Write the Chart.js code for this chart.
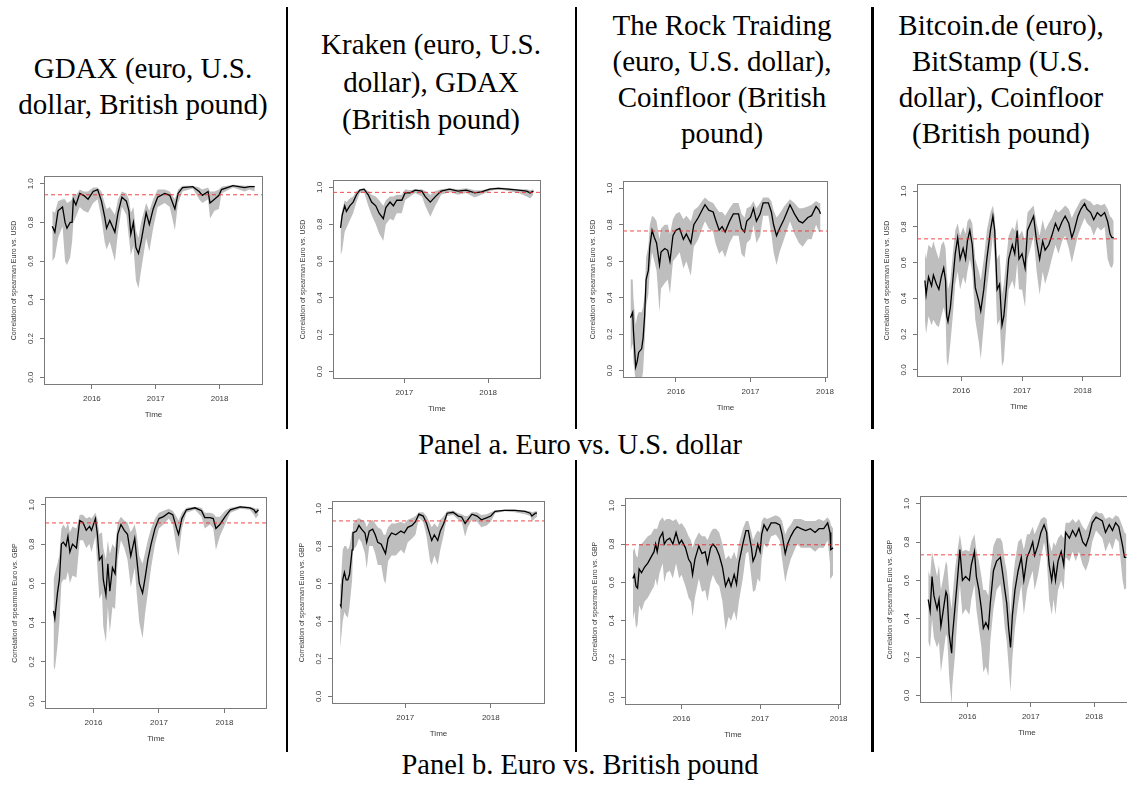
<!DOCTYPE html>
<html>
<head>
<meta charset="utf-8">
<script src="https://cdn.jsdelivr.net/npm/chart.js@4.4.1/dist/chart.umd.min.js"></script>
<style>
  html, body { margin: 0; padding: 0; background: #fff; }
  #page { position: relative; width: 1127px; height: 787px; overflow: hidden; background: #fff; }
  .head { position: absolute; width: 290px; text-align: center; font-family: "Liberation Serif", "Times New Roman", serif; font-size: 29px; line-height: 36px; color: #000; }
  .panel { position: absolute; left: 230px; width: 700px; text-align: center; font-family: "Liberation Serif", "Times New Roman", serif; font-size: 28.5px; line-height: 36px; color: #000; }
  .sep { position: absolute; background: #000; }
  .plot { position: absolute; }
</style>
</head>
<body>
<div id="page">
  <div class="head" style="left:-2px; top:50px;">GDAX (euro, U.S.<br>dollar, British pound)</div>
  <div class="head" style="left:286px; top:26px; line-height:37.5px;">Kraken (euro, U.S.<br>dollar), GDAX<br>(British pound)</div>
  <div class="head" style="left:577px; top:7px;">The Rock Traiding<br>(euro, U.S. dollar),<br>Coinfloor (British<br>pound)</div>
  <div class="head" style="left:856px; top:7px;">Bitcoin.de (euro),<br>BitStamp (U.S.<br>dollar), Coinfloor<br>(British pound)</div>

  <div class="sep" style="left:286px; top:7px; width:2px; height:422px;"></div>
  <div class="sep" style="left:575px; top:7px; width:2px; height:422px;"></div>
  <div class="sep" style="left:871px; top:7px; width:3px; height:422px;"></div>
  <div class="sep" style="left:286px; top:460px; width:2px; height:292px;"></div>
  <div class="sep" style="left:575px; top:460px; width:2px; height:292px;"></div>
  <div class="sep" style="left:871px; top:460px; width:3px; height:292px;"></div>

  <div class="panel" style="top:427px;">Panel a. Euro vs. U.S. dollar</div>
  <div class="panel" style="top:747px;">Panel b. Euro vs. British pound</div>
</div>
<script>
// rolling spearman correlation, euro vs usd (row a) and euro vs gbp (row b)
var yTicks = [0, 0.2, 0.4, 0.6, 0.8, 1.0];
var yTickLabels = ["0.0", "0.2", "0.4", "0.6", "0.8", "1.0"];
var usdTitle = "Correlation of spearman Euro vs. USD";
var gbpTitle = "Correlation of spearman Euro vs. GBP";

// --- Panel a, GDAX
var a1Time = [2015.38,2015.42,2015.47,2015.54,2015.58,2015.61,2015.66,2015.69,2015.71,2015.75,2015.81,2015.87,2015.94,2016.02,2016.09,2016.15,2016.20,2016.23,2016.28,2016.36,2016.41,2016.47,2016.54,2016.58,2016.61,2016.65,2016.69,2016.73,2016.77,2016.85,2016.90,2016.96,2017.03,2017.14,2017.22,2017.30,2017.35,2017.42,2017.58,2017.68,2017.73,2017.82,2017.85,2017.92,2017.99,2018.03,2018.21,2018.39,2018.47,2018.55];
var a1Mean = [0.78,0.75,0.86,0.88,0.80,0.77,0.80,0.80,0.92,0.89,0.95,0.94,0.92,0.96,0.97,0.91,0.83,0.77,0.81,0.75,0.85,0.93,0.91,0.86,0.74,0.80,0.67,0.64,0.70,0.85,0.79,0.87,0.93,0.95,0.94,0.87,0.95,0.98,0.985,0.96,0.94,0.96,0.90,0.92,0.94,0.97,0.99,0.98,0.985,0.985];
var a1Low = [0.60,0.62,0.72,0.78,0.60,0.58,0.62,0.70,0.80,0.83,0.88,0.86,0.85,0.90,0.92,0.82,0.70,0.66,0.70,0.60,0.75,0.88,0.84,0.72,0.63,0.68,0.50,0.46,0.55,0.72,0.65,0.77,0.88,0.90,0.88,0.76,0.90,0.96,0.975,0.92,0.90,0.92,0.82,0.86,0.87,0.95,0.98,0.96,0.97,0.96];
var a1High = [0.86,0.85,0.91,0.92,0.92,0.90,0.91,0.92,0.95,0.94,0.97,0.96,0.96,0.98,0.98,0.96,0.90,0.87,0.88,0.84,0.92,0.96,0.95,0.92,0.85,0.88,0.76,0.72,0.80,0.90,0.86,0.92,0.97,0.97,0.96,0.92,0.97,0.99,0.99,0.98,0.97,0.98,0.96,0.96,0.97,0.985,0.995,0.99,0.99,0.99];
var a1Ref = 0.943;

// --- Panel a, Kraken
var a2Time = [2016.24,2016.26,2016.29,2016.31,2016.35,2016.39,2016.43,2016.47,2016.52,2016.57,2016.61,2016.66,2016.70,2016.75,2016.78,2016.83,2016.87,2016.91,2016.97,2017.01,2017.07,2017.13,2017.21,2017.25,2017.31,2017.37,2017.44,2017.54,2017.64,2017.74,2017.84,2017.92,2018.02,2018.12,2018.24,2018.36,2018.46,2018.50,2018.54];
var a2Mean = [0.78,0.85,0.90,0.87,0.90,0.92,0.96,0.985,0.99,0.96,0.92,0.90,0.86,0.83,0.89,0.92,0.90,0.93,0.93,0.97,0.97,0.985,0.98,0.95,0.92,0.95,0.98,0.99,0.98,0.985,0.97,0.975,0.99,0.995,0.99,0.985,0.98,0.97,0.98];
var a2Low = [0.63,0.66,0.76,0.78,0.82,0.86,0.92,0.97,0.975,0.90,0.85,0.80,0.75,0.71,0.80,0.83,0.82,0.86,0.86,0.93,0.95,0.97,0.95,0.90,0.84,0.90,0.96,0.975,0.96,0.97,0.945,0.96,0.98,0.99,0.98,0.97,0.95,0.94,0.96];
var a2High = [0.82,0.88,0.93,0.92,0.94,0.95,0.98,0.99,0.995,0.98,0.96,0.95,0.93,0.90,0.93,0.95,0.95,0.96,0.96,0.99,0.985,0.99,0.99,0.98,0.96,0.98,0.99,0.995,0.99,0.995,0.985,0.985,0.995,1.0,0.995,0.99,0.99,0.985,0.99];
var a2Ref = 0.973;

// --- Panel a, The Rock Trading
var a3Time = [2015.39,2015.42,2015.43,2015.46,2015.48,2015.50,2015.54,2015.56,2015.58,2015.60,2015.63,2015.65,2015.68,2015.71,2015.74,2015.78,2015.80,2015.85,2015.89,2015.92,2015.96,2016.00,2016.05,2016.10,2016.14,2016.20,2016.24,2016.30,2016.35,2016.39,2016.44,2016.50,2016.53,2016.58,2016.62,2016.66,2016.72,2016.77,2016.84,2016.88,2016.92,2016.95,2017.00,2017.04,2017.08,2017.13,2017.17,2017.24,2017.28,2017.31,2017.35,2017.39,2017.45,2017.53,2017.59,2017.65,2017.70,2017.77,2017.82,2017.88,2017.92,2017.94];
var a3Mean = [0.29,0.32,0.22,0.02,0.05,0.10,0.12,0.18,0.30,0.50,0.55,0.68,0.77,0.73,0.70,0.58,0.65,0.67,0.66,0.60,0.74,0.77,0.78,0.72,0.75,0.70,0.80,0.84,0.88,0.91,0.88,0.87,0.83,0.77,0.79,0.76,0.82,0.86,0.86,0.78,0.76,0.82,0.84,0.89,0.82,0.86,0.92,0.92,0.87,0.80,0.74,0.78,0.83,0.91,0.86,0.82,0.81,0.84,0.85,0.90,0.88,0.86];
var a3Low = [0.10,0.15,0.05,-0.06,-0.06,-0.06,-0.06,0.0,0.15,0.35,0.42,0.55,0.65,0.60,0.55,0.32,0.45,0.48,0.50,0.42,0.60,0.62,0.65,0.56,0.60,0.52,0.68,0.72,0.78,0.82,0.78,0.76,0.70,0.64,0.66,0.62,0.70,0.74,0.74,0.64,0.62,0.70,0.72,0.80,0.70,0.74,0.85,0.85,0.75,0.65,0.58,0.65,0.72,0.82,0.75,0.70,0.68,0.72,0.72,0.80,0.76,0.76];
var a3High = [0.50,0.50,0.40,0.25,0.30,0.32,0.32,0.35,0.42,0.62,0.68,0.80,0.85,0.84,0.82,0.72,0.78,0.80,0.80,0.75,0.83,0.86,0.87,0.83,0.85,0.82,0.88,0.90,0.93,0.95,0.93,0.92,0.90,0.87,0.87,0.85,0.89,0.92,0.92,0.86,0.84,0.89,0.90,0.93,0.89,0.92,0.95,0.95,0.93,0.88,0.84,0.86,0.90,0.94,0.92,0.89,0.89,0.90,0.91,0.93,0.92,0.92];
var a3Ref = 0.766;

// --- Panel a, Bitcoin.de / BitStamp
var a4Time = [2015.40,2015.42,2015.46,2015.51,2015.54,2015.59,2015.63,2015.67,2015.71,2015.74,2015.76,2015.78,2015.82,2015.86,2015.90,2015.94,2015.98,2016.03,2016.07,2016.10,2016.14,2016.18,2016.23,2016.29,2016.32,2016.37,2016.42,2016.48,2016.52,2016.55,2016.59,2016.63,2016.67,2016.70,2016.74,2016.78,2016.84,2016.88,2016.92,2016.95,2017.00,2017.05,2017.09,2017.14,2017.19,2017.24,2017.29,2017.34,2017.38,2017.44,2017.49,2017.55,2017.60,2017.66,2017.71,2017.77,2017.82,2017.86,2017.92,2017.97,2018.03,2018.07,2018.13,2018.18,2018.24,2018.30,2018.36,2018.41,2018.45,2018.48,2018.51];
var a4Mean = [0.50,0.42,0.52,0.47,0.53,0.48,0.45,0.52,0.57,0.50,0.30,0.27,0.35,0.50,0.65,0.74,0.62,0.68,0.62,0.72,0.78,0.70,0.46,0.38,0.33,0.45,0.62,0.78,0.86,0.78,0.45,0.48,0.25,0.30,0.45,0.62,0.70,0.65,0.78,0.62,0.65,0.57,0.78,0.82,0.86,0.72,0.62,0.72,0.67,0.70,0.75,0.82,0.78,0.83,0.86,0.82,0.74,0.78,0.86,0.90,0.93,0.90,0.88,0.84,0.88,0.86,0.88,0.83,0.76,0.74,0.74];
var a4Low = [0.28,0.20,0.30,0.25,0.28,0.25,0.24,0.30,0.35,0.30,0.05,0.02,0.15,0.30,0.48,0.55,0.45,0.52,0.48,0.55,0.62,0.55,0.28,0.15,0.06,0.25,0.45,0.62,0.75,0.62,0.25,0.28,0.02,0.05,0.25,0.45,0.50,0.45,0.60,0.45,0.45,0.35,0.62,0.68,0.75,0.55,0.42,0.55,0.48,0.55,0.62,0.70,0.65,0.72,0.75,0.68,0.60,0.66,0.75,0.80,0.85,0.82,0.80,0.75,0.80,0.78,0.80,0.62,0.58,0.57,0.60];
var a4High = [0.66,0.62,0.70,0.68,0.72,0.66,0.62,0.70,0.72,0.68,0.55,0.45,0.50,0.65,0.78,0.82,0.75,0.80,0.76,0.83,0.85,0.82,0.62,0.55,0.50,0.62,0.78,0.88,0.92,0.86,0.62,0.65,0.42,0.48,0.62,0.75,0.80,0.78,0.85,0.75,0.78,0.72,0.88,0.90,0.92,0.82,0.75,0.84,0.78,0.82,0.85,0.90,0.88,0.90,0.92,0.90,0.85,0.88,0.92,0.95,0.96,0.95,0.94,0.92,0.93,0.92,0.93,0.90,0.86,0.85,0.83];
var a4Ref = 0.733;

// --- Panel b, GDAX
var b1Time = [2015.39,2015.41,2015.45,2015.48,2015.51,2015.54,2015.58,2015.61,2015.64,2015.68,2015.74,2015.79,2015.84,2015.89,2015.94,2015.97,2016.03,2016.06,2016.09,2016.13,2016.15,2016.19,2016.22,2016.25,2016.29,2016.33,2016.37,2016.42,2016.47,2016.52,2016.57,2016.63,2016.66,2016.70,2016.75,2016.79,2016.83,2016.88,2016.94,2017.00,2017.07,2017.15,2017.21,2017.27,2017.30,2017.35,2017.42,2017.55,2017.65,2017.70,2017.78,2017.83,2017.87,2017.93,2018.01,2018.09,2018.24,2018.39,2018.45,2018.48,2018.52];
var b1Mean = [0.46,0.42,0.55,0.62,0.80,0.81,0.79,0.84,0.76,0.80,0.78,0.92,0.91,0.87,0.89,0.87,0.93,0.85,0.72,0.74,0.62,0.54,0.70,0.56,0.68,0.65,0.85,0.90,0.87,0.85,0.74,0.83,0.73,0.60,0.55,0.63,0.72,0.80,0.88,0.93,0.94,0.96,0.95,0.88,0.85,0.93,0.975,0.985,0.97,0.935,0.935,0.93,0.88,0.90,0.94,0.975,0.99,0.985,0.975,0.96,0.975];
var b1Low = [0.18,0.16,0.28,0.40,0.60,0.62,0.62,0.66,0.60,0.64,0.63,0.82,0.82,0.78,0.80,0.76,0.84,0.68,0.52,0.55,0.38,0.30,0.48,0.35,0.48,0.47,0.72,0.82,0.78,0.72,0.58,0.68,0.55,0.40,0.32,0.45,0.55,0.68,0.80,0.88,0.90,0.93,0.90,0.78,0.74,0.88,0.96,0.975,0.94,0.88,0.90,0.88,0.77,0.84,0.90,0.96,0.98,0.975,0.95,0.93,0.95];
var b1High = [0.62,0.65,0.70,0.75,0.88,0.90,0.88,0.91,0.86,0.89,0.88,0.95,0.95,0.93,0.94,0.93,0.96,0.93,0.85,0.86,0.78,0.72,0.82,0.75,0.80,0.78,0.91,0.94,0.92,0.91,0.86,0.90,0.85,0.74,0.70,0.76,0.82,0.88,0.93,0.96,0.97,0.98,0.97,0.94,0.92,0.96,0.985,0.99,0.985,0.96,0.96,0.955,0.94,0.94,0.97,0.985,0.995,0.99,0.985,0.98,0.985];
var b1Ref = 0.908;

// --- Panel b, GDAX (Kraken column)
var b2Time = [2016.24,2016.25,2016.27,2016.29,2016.31,2016.33,2016.35,2016.38,2016.39,2016.43,2016.46,2016.49,2016.53,2016.55,2016.58,2016.62,2016.65,2016.68,2016.72,2016.75,2016.77,2016.80,2016.84,2016.89,2016.95,2016.99,2017.03,2017.08,2017.12,2017.16,2017.21,2017.25,2017.29,2017.31,2017.34,2017.38,2017.41,2017.45,2017.49,2017.56,2017.62,2017.66,2017.70,2017.73,2017.78,2017.84,2017.89,2017.95,2018.00,2018.05,2018.16,2018.28,2018.40,2018.46,2018.48,2018.52,2018.54];
var b2Mean = [0.49,0.48,0.62,0.66,0.62,0.62,0.65,0.78,0.87,0.88,0.91,0.89,0.87,0.82,0.88,0.89,0.86,0.82,0.81,0.78,0.76,0.84,0.87,0.86,0.88,0.87,0.90,0.91,0.93,0.97,0.96,0.92,0.86,0.83,0.86,0.83,0.88,0.92,0.975,0.98,0.96,0.955,0.92,0.94,0.97,0.96,0.94,0.95,0.96,0.985,0.99,0.99,0.985,0.975,0.96,0.975,0.975];
var b2Low = [0.26,0.30,0.40,0.45,0.43,0.42,0.48,0.62,0.78,0.80,0.84,0.82,0.76,0.68,0.80,0.80,0.76,0.70,0.70,0.62,0.60,0.72,0.75,0.75,0.78,0.76,0.82,0.84,0.86,0.95,0.93,0.85,0.72,0.70,0.75,0.70,0.78,0.86,0.96,0.965,0.94,0.93,0.85,0.90,0.94,0.93,0.90,0.91,0.93,0.975,0.985,0.98,0.97,0.96,0.93,0.95,0.955];
var b2High = [0.60,0.62,0.78,0.80,0.80,0.78,0.80,0.88,0.92,0.94,0.95,0.94,0.93,0.90,0.93,0.94,0.92,0.90,0.89,0.86,0.86,0.90,0.92,0.92,0.93,0.92,0.94,0.95,0.96,0.98,0.98,0.96,0.92,0.90,0.92,0.90,0.94,0.96,0.985,0.99,0.975,0.97,0.96,0.96,0.98,0.98,0.965,0.97,0.98,0.99,0.995,0.995,0.99,0.985,0.98,0.985,0.985];
var b2Ref = 0.934;

// --- Panel b, The Rock Trading / Coinfloor
var b3Time = [2015.38,2015.40,2015.42,2015.44,2015.46,2015.49,2015.53,2015.57,2015.61,2015.65,2015.67,2015.69,2015.72,2015.76,2015.78,2015.81,2015.85,2015.89,2015.93,2015.97,2016.00,2016.05,2016.09,2016.12,2016.14,2016.17,2016.22,2016.26,2016.30,2016.33,2016.37,2016.40,2016.44,2016.48,2016.52,2016.56,2016.60,2016.63,2016.67,2016.70,2016.73,2016.78,2016.82,2016.85,2016.89,2016.91,2016.94,2016.97,2017.00,2017.02,2017.05,2017.09,2017.14,2017.20,2017.25,2017.28,2017.32,2017.35,2017.39,2017.43,2017.47,2017.52,2017.58,2017.64,2017.70,2017.75,2017.81,2017.86,2017.89,2017.90,2017.93];
var b3Mean = [0.62,0.64,0.58,0.57,0.67,0.65,0.68,0.70,0.73,0.76,0.80,0.76,0.83,0.86,0.80,0.82,0.83,0.80,0.86,0.80,0.82,0.78,0.72,0.70,0.64,0.72,0.79,0.75,0.76,0.70,0.78,0.80,0.78,0.74,0.68,0.58,0.62,0.58,0.64,0.59,0.70,0.80,0.87,0.87,0.78,0.71,0.74,0.80,0.76,0.85,0.90,0.87,0.91,0.91,0.90,0.85,0.75,0.80,0.84,0.87,0.89,0.88,0.87,0.88,0.86,0.88,0.88,0.91,0.86,0.77,0.78];
var b3Low = [0.40,0.45,0.36,0.38,0.48,0.45,0.50,0.52,0.55,0.58,0.62,0.58,0.65,0.70,0.60,0.65,0.66,0.62,0.70,0.62,0.64,0.58,0.52,0.50,0.42,0.52,0.62,0.55,0.56,0.50,0.60,0.64,0.60,0.58,0.50,0.35,0.42,0.40,0.45,0.40,0.50,0.62,0.75,0.76,0.62,0.55,0.56,0.62,0.60,0.72,0.80,0.78,0.84,0.85,0.82,0.72,0.60,0.66,0.72,0.76,0.80,0.78,0.78,0.78,0.76,0.78,0.78,0.82,0.70,0.62,0.64];
var b3High = [0.76,0.78,0.74,0.73,0.80,0.80,0.82,0.84,0.85,0.88,0.88,0.88,0.92,0.94,0.92,0.93,0.93,0.92,0.93,0.90,0.91,0.88,0.84,0.82,0.78,0.82,0.86,0.84,0.84,0.82,0.86,0.88,0.88,0.86,0.80,0.72,0.74,0.72,0.76,0.72,0.80,0.88,0.92,0.92,0.86,0.82,0.85,0.87,0.86,0.92,0.94,0.93,0.94,0.95,0.94,0.92,0.85,0.88,0.90,0.93,0.93,0.93,0.92,0.92,0.92,0.93,0.92,0.94,0.92,0.90,0.88];
var b3Ref = 0.796;

// --- Panel b, Bitcoin.de / Coinfloor
var b4Time = [2015.38,2015.41,2015.44,2015.47,2015.52,2015.55,2015.58,2015.62,2015.66,2015.68,2015.71,2015.75,2015.76,2015.80,2015.84,2015.88,2015.92,2015.97,2016.03,2016.06,2016.11,2016.14,2016.18,2016.22,2016.25,2016.29,2016.33,2016.36,2016.41,2016.46,2016.52,2016.55,2016.59,2016.62,2016.65,2016.68,2016.71,2016.75,2016.80,2016.85,2016.89,2016.94,2016.98,2017.03,2017.06,2017.11,2017.16,2017.21,2017.25,2017.29,2017.33,2017.36,2017.39,2017.43,2017.48,2017.52,2017.55,2017.61,2017.66,2017.71,2017.76,2017.82,2017.87,2017.92,2017.97,2018.03,2018.08,2018.13,2018.18,2018.24,2018.29,2018.34,2018.39,2018.45,2018.48,2018.51];
var b4Mean = [0.50,0.44,0.62,0.52,0.45,0.50,0.36,0.45,0.54,0.52,0.32,0.22,0.30,0.45,0.60,0.76,0.60,0.62,0.60,0.68,0.75,0.62,0.55,0.45,0.35,0.38,0.35,0.48,0.65,0.70,0.72,0.65,0.55,0.48,0.35,0.25,0.42,0.55,0.65,0.72,0.60,0.72,0.75,0.80,0.73,0.78,0.85,0.89,0.85,0.68,0.60,0.68,0.60,0.70,0.75,0.68,0.85,0.82,0.86,0.83,0.87,0.80,0.78,0.83,0.90,0.93,0.92,0.91,0.85,0.89,0.86,0.90,0.88,0.78,0.72,0.72];
var b4Low = [0.28,0.25,0.40,0.30,0.25,0.28,0.12,0.22,0.32,0.30,0.10,-0.05,0.05,0.20,0.40,0.58,0.42,0.45,0.42,0.50,0.58,0.45,0.35,0.25,0.12,0.15,0.10,0.28,0.45,0.55,0.58,0.50,0.35,0.28,0.15,0.02,0.20,0.35,0.48,0.58,0.42,0.55,0.60,0.65,0.55,0.62,0.72,0.80,0.72,0.50,0.42,0.50,0.42,0.55,0.60,0.55,0.72,0.70,0.75,0.70,0.75,0.68,0.65,0.70,0.80,0.86,0.84,0.82,0.75,0.80,0.76,0.82,0.80,0.60,0.55,0.56];
var b4High = [0.65,0.62,0.75,0.70,0.62,0.68,0.55,0.62,0.70,0.68,0.55,0.45,0.50,0.65,0.75,0.84,0.75,0.76,0.75,0.80,0.84,0.76,0.70,0.62,0.55,0.55,0.52,0.65,0.78,0.82,0.82,0.80,0.70,0.65,0.55,0.42,0.58,0.70,0.80,0.82,0.76,0.84,0.84,0.88,0.84,0.88,0.92,0.93,0.92,0.80,0.75,0.80,0.78,0.82,0.84,0.82,0.90,0.90,0.92,0.90,0.92,0.88,0.86,0.90,0.94,0.96,0.95,0.95,0.92,0.93,0.92,0.94,0.93,0.88,0.85,0.84];
var b4Ref = 0.733;

var yearsAll = [2016, 2017, 2018];
var yearsLate = [2017, 2018];

// plot frame in page pixels [left, top, right, bottom] and x range of each R plot
var panels = [
  { box: [44, 176, 263, 385], xMin: 2015.25, xMax: 2018.68, years: yearsAll, time: a1Time, mean: a1Mean, low: a1Low, high: a1High, ref: a1Ref, yTitle: usdTitle },
  { box: [333, 180, 541, 379], xMin: 2016.15, xMax: 2018.63, years: yearsLate, time: a2Time, mean: a2Mean, low: a2Low, high: a2High, ref: a2Ref, yTitle: usdTitle },
  { box: [623, 181, 828, 378], xMin: 2015.29, xMax: 2018.04, years: yearsAll, time: a3Time, mean: a3Mean, low: a3Low, high: a3High, ref: a3Ref, yTitle: usdTitle },
  { box: [917, 184, 1121, 377], xMin: 2015.27, xMax: 2018.63, years: yearsAll, time: a4Time, mean: a4Mean, low: a4Low, high: a4High, ref: a4Ref, yTitle: usdTitle },
  { box: [45, 497, 267, 709], xMin: 2015.26, xMax: 2018.65, years: yearsAll, time: b1Time, mean: b1Mean, low: b1Low, high: b1High, ref: b1Ref, yTitle: gbpTitle },
  { box: [332, 501, 545, 704], xMin: 2016.145, xMax: 2018.633, years: yearsLate, time: b2Time, mean: b2Mean, low: b2Low, high: b2High, ref: b2Ref, yTitle: gbpTitle },
  { box: [625, 498, 841, 705], xMin: 2015.28, xMax: 2018.03, years: yearsAll, time: b3Time, mean: b3Mean, low: b3Low, high: b3High, ref: b3Ref, yTitle: gbpTitle },
  { box: [920, 496, 1134, 703], xMin: 2015.25, xMax: 2018.63, years: yearsAll, time: b4Time, mean: b4Mean, low: b4Low, high: b4High, ref: b4Ref, yTitle: gbpTitle }
];

var FONT = '"Liberation Sans", Arial, sans-serif';
var TEXT = "#3a3a3a";
var AXIS_W = 34, AXIS_H = 35, PAD_T = 4, PAD_R = 14;

function pts(time, vals) {
  return time.map(function (t, i) { return { x: t, y: vals[i] }; });
}

// R style frame + rotated y tick labels
var rFrame = {
  id: "rFrame",
  afterDraw: function (chart) {
    var a = chart.chartArea, ctx = chart.ctx, ys = chart.scales.y;
    ctx.save();
    ctx.strokeStyle = "#7a7a7a";
    ctx.lineWidth = 1;
    ctx.strokeRect(Math.round(a.left) + 0.5, Math.round(a.top) + 0.5, Math.round(a.right - a.left) - 1, Math.round(a.bottom - a.top) - 1);
    ctx.fillStyle = TEXT;
    ctx.font = "8px " + FONT;
    ctx.textAlign = "center";
    ctx.textBaseline = "middle";
    yTicks.forEach(function (v, i) {
      ctx.save();
      ctx.translate(a.left - 13, ys.getPixelForValue(v));
      ctx.rotate(-Math.PI / 2);
      ctx.fillText(yTickLabels[i], 0, 0);
      ctx.restore();
    });
    ctx.restore();
  }
};

var page = document.getElementById("page");

panels.forEach(function (p) {
  var L = p.box[0], T = p.box[1], R = p.box[2], B = p.box[3];
  var w = (R - L) + AXIS_W + PAD_R;
  var h = (B - T) + PAD_T + AXIS_H;
  var div = document.createElement("div");
  div.className = "plot";
  div.style.left = (L - AXIS_W) + "px";
  div.style.top = (T - PAD_T) + "px";
  div.style.width = w + "px";
  div.style.height = h + "px";
  var canvas = document.createElement("canvas");
  canvas.width = w;
  canvas.height = h;
  canvas.style.width = w + "px";
  canvas.style.height = h + "px";
  div.appendChild(canvas);
  page.appendChild(div);

  new Chart(canvas.getContext("2d"), {
    type: "line",
    data: {
      datasets: [
        { data: [{ x: p.xMin, y: p.ref }, { x: p.xMax, y: p.ref }], borderColor: "rgba(240,40,40,0.85)", borderWidth: 1, borderDash: [4, 3], pointRadius: 0, fill: false },
        { data: pts(p.time, p.mean), borderColor: "#000", borderWidth: 1.3, pointRadius: 0, fill: false },
        { data: pts(p.time, p.low), borderWidth: 0, borderColor: "rgba(0,0,0,0)", pointRadius: 0, fill: false },
        { data: pts(p.time, p.high), borderWidth: 0, borderColor: "rgba(0,0,0,0)", pointRadius: 0, fill: "-1", backgroundColor: "#bebebe" }
      ]
    },
    options: {
      responsive: false,
      animation: false,
      events: [],
      layout: { padding: { top: PAD_T, right: PAD_R, left: 0, bottom: 0 } },
      elements: { line: { tension: 0 }, point: { radius: 0 } },
      plugins: { legend: { display: false }, tooltip: { enabled: false } },
      scales: {
        x: {
          type: "linear",
          min: p.xMin,
          max: p.xMax,
          afterBuildTicks: function (s) { s.ticks = p.years.map(function (v) { return { value: v }; }); },
          afterFit: function (s) { s.height = AXIS_H; },
          ticks: { font: { size: 8, family: FONT }, color: TEXT, padding: 5, maxRotation: 0, autoSkip: false, callback: function (v) { return String(v); } },
          grid: { drawOnChartArea: false, tickLength: 4, color: "#777" },
          border: { display: false },
          title: { display: true, text: "Time", font: { size: 8, family: FONT }, color: TEXT, padding: 0 }
        },
        y: {
          min: -0.04,
          max: 1.04,
          afterBuildTicks: function (s) { s.ticks = yTicks.map(function (v) { return { value: v }; }); },
          afterFit: function (s) { s.width = AXIS_W; },
          ticks: { display: false },
          grid: { drawOnChartArea: false, tickLength: 4, color: "#777" },
          border: { display: false },
          title: { display: true, text: p.yTitle, font: { size: 7, family: FONT }, color: TEXT, padding: 0 }
        }
      }
    },
    plugins: [rFrame]
  });
});
</script>
</body>
</html>
